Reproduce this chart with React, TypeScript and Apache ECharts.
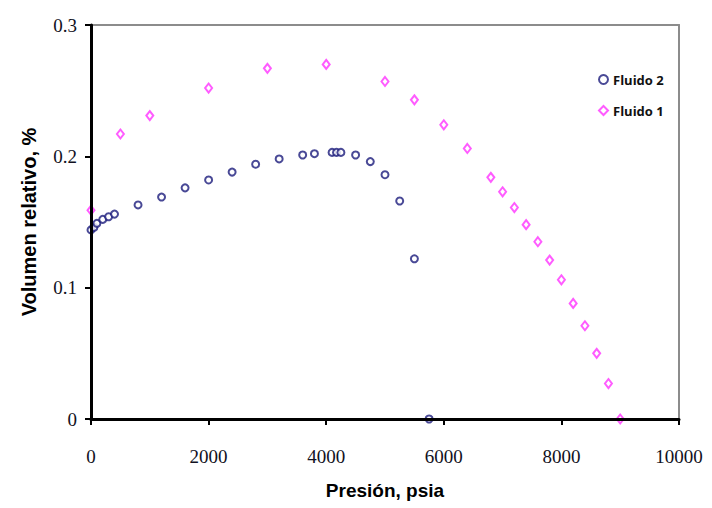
import React, { useEffect, useRef } from "react";
import * as echarts from "echarts";

const fluido2X = [0, 50, 100, 200, 300, 400, 800, 1200, 1600, 2000, 2400, 2800, 3200, 3600, 3800, 4100, 4175, 4250, 4500, 4750, 5000, 5250, 5500, 5750];
const fluido2Y = [0.144, 0.146, 0.149, 0.152, 0.154, 0.156, 0.163, 0.169, 0.176, 0.182, 0.188, 0.194, 0.198, 0.201, 0.202, 0.203, 0.203, 0.203, 0.201, 0.196, 0.186, 0.166, 0.122, 0];

const fluido1X = [0, 500, 1000, 2000, 3000, 4000, 5000, 5500, 6000, 6400, 6800, 7000, 7200, 7400, 7600, 7800, 8000, 8200, 8400, 8600, 8800, 9000];
const fluido1Y = [0.159, 0.217, 0.231, 0.252, 0.267, 0.270, 0.257, 0.243, 0.224, 0.206, 0.184, 0.173, 0.161, 0.148, 0.135, 0.121, 0.106, 0.088, 0.071, 0.050, 0.027, 0];

const xTicks = { min: 0, max: 10000, interval: 2000 };
const yTicks = { min: 0, max: 0.3, interval: 0.1 };

const seriesNames = ["Fluido 2", "Fluido 1"];
const xTitle = "Presión, psia";
const yTitle = "Volumen relativo, %";

export default function App() {
  const ref = useRef<HTMLDivElement>(null);
  useEffect(() => {
    if (!ref.current) return;
    const chart = echarts.init(ref.current, undefined, { renderer: "svg" });
    const tickFont = {
      fontFamily: "'Liberation Serif', 'Times New Roman', serif",
      fontSize: 19,
      color: "#111122",
    };
    const frameAxis = {
      type: "value",
      axisLine: { show: true, onZero: false, lineStyle: { color: "#8c8c8c", width: 2 } },
      axisTick: { show: false },
      axisLabel: { show: false },
      splitLine: { show: false },
    };
    chart.setOption({
      animation: false,
      backgroundColor: "#ffffff",
      grid: { left: 91, right: 33, top: 25, bottom: 89 },
      legend: {
        data: seriesNames,
        orient: "vertical",
        left: 593,
        top: 68,
        itemWidth: 9,
        itemHeight: 9,
        itemGap: 18,
        textStyle: {
          fontFamily: "'Liberation Sans Narrow', 'Open Sans', sans-serif",
          fontWeight: "bold",
          fontSize: 13,
          color: "#111",
        },
      },
      xAxis: [
        {
          type: "value",
          min: xTicks.min,
          max: xTicks.max,
          interval: xTicks.interval,
          name: xTitle,
          nameLocation: "middle",
          nameGap: 62,
          nameTextStyle: {
            fontFamily: "'Liberation Sans', Arial, sans-serif",
            fontWeight: "bold",
            fontSize: 19,
            color: "#000",
          },
          axisLine: { show: true, onZero: false, lineStyle: { color: "#000", width: 3 } },
          axisTick: { show: true, length: 6, lineStyle: { color: "#000", width: 2 } },
          axisLabel: { ...tickFont, margin: 28, formatter: (v: number) => String(v) },
          splitLine: { show: false },
          z: 5,
        },
        { ...frameAxis, position: "top", min: xTicks.min, max: xTicks.max },
      ],
      yAxis: [
        {
          type: "value",
          min: yTicks.min,
          max: yTicks.max,
          interval: yTicks.interval,
          name: yTitle,
          nameLocation: "middle",
          nameGap: 52,
          nameTextStyle: {
            fontFamily: "'Liberation Sans', Arial, sans-serif",
            fontWeight: "bold",
            fontSize: 20,
            color: "#000",
          },
          axisLine: { show: true, onZero: false, lineStyle: { color: "#000", width: 3 } },
          axisTick: { show: true, length: 6, lineStyle: { color: "#000", width: 2 } },
          axisLabel: { ...tickFont, margin: 14 },
          splitLine: { show: false },
          z: 5,
        },
        { ...frameAxis, position: "right", min: yTicks.min, max: yTicks.max },
      ],
      series: [
        {
          name: seriesNames[0],
          type: "scatter",
          symbol: "emptyCircle",
          symbolSize: 7,
          itemStyle: { color: "#1c1c7c", borderWidth: 2.5 },
          data: fluido2X.map((x, i) => [x, fluido2Y[i]]),
          z: 3,
        },
        {
          name: seriesNames[1],
          type: "scatter",
          symbol: "emptyDiamond",
          symbolSize: [7, 9],
          itemStyle: { color: "#ff33ff", borderWidth: 2.5 },
          data: fluido1X.map((x, i) => [x, fluido1Y[i]]),
          z: 4,
        },
      ],
    });
    return () => chart.dispose();
  }, []);
  return (
    <div
      ref={ref}
      style={{ position: "fixed", left: 0, top: 0, width: 712, height: 508, background: "#fff" }}
    />
  );
}
